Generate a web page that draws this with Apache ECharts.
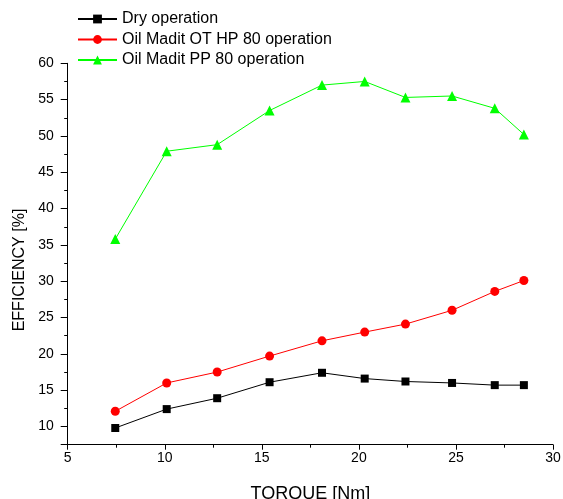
<!DOCTYPE html>
<html>
<head>
<meta charset="utf-8">
<script src="https://cdn.jsdelivr.net/npm/echarts@6/dist/echarts.min.js"></script>
<style>
html,body{margin:0;padding:0;background:#fff;}
#chart{width:563px;height:499px;}
</style>
</head>
<body>
<div id="chart"></div>
<script>
var torque = [7.45, 10.1, 12.7, 15.4, 18.1, 20.3, 22.4, 24.8, 27.0, 28.5];
var dryOperation = [9.8, 12.4, 13.9, 16.1, 17.4, 16.6, 16.2, 16.0, 15.7, 15.7];
var oilOTHP80 = [12.1, 16.0, 17.5, 19.7, 21.8, 23.0, 24.1, 26.0, 28.6, 30.1];
var oilPP80 = [35.8, 47.9, 48.8, 53.5, 57.0, 57.5, 55.3, 55.5, 53.8, 50.2];
var seriesNames = ['Dry operation', 'Oil Madit OT HP 80 operation', 'Oil Madit PP 80 operation'];

function pairs(xs, ys) { return xs.map(function (x, i) { return [x, ys[i]]; }); }

var font = '"Liberation Sans", Arial, sans-serif';
var chart = echarts.init(document.getElementById('chart'), null, {renderer: 'canvas'});
chart.setOption({
  animation: false,
  backgroundColor: '#ffffff',
  textStyle: {fontFamily: font, color: '#000'},
  grid: {left: 67.7, right: 10, top: 63.3, bottom: 54.3, containLabel: false, outerBoundsMode: 'none'},
  legend: {
    left: 77, top: 11, orient: 'vertical', padding: 0,
    itemWidth: 39, itemHeight: 11, itemGap: 4.5,
    textStyle: {fontFamily: font, fontSize: 16, color: '#000'},
    data: seriesNames
  },
  xAxis: {
    type: 'value', min: 5, max: 30, interval: 5,
    name: 'TORQUE [Nm]', nameLocation: 'middle', nameGap: 40,
    nameTextStyle: {fontFamily: font, fontSize: 18, color: '#000'},
    axisLine: {show: true, onZero: false, lineStyle: {color: '#000', width: 1}},
    axisTick: {show: true, inside: false, length: 5, lineStyle: {color: '#000'}},
    minorTick: {show: true, splitNumber: 2, length: 3, lineStyle: {color: '#000'}},
    axisLabel: {fontFamily: font, fontSize: 14, color: '#000', margin: 6},
    splitLine: {show: false}
  },
  yAxis: {
    type: 'value', min: 7.5, max: 60, splitNumber: 10,
    name: 'EFFICIENCY [%]', nameLocation: 'middle', nameGap: 40,
    nameTextStyle: {fontFamily: font, fontSize: 16, color: '#000', padding: [0, 32, 0, 0]},
    axisLine: {show: true, onZero: false, lineStyle: {color: '#000', width: 1}},
    axisTick: {show: true, inside: false, length: 7, lineStyle: {color: '#000'}},
    minorTick: {show: true, splitNumber: 2, length: 3.5, lineStyle: {color: '#000'}},
    axisLabel: {fontFamily: font, fontSize: 14, color: '#000', margin: 14, showMinLabel: false},
    splitLine: {show: false}
  },
  series: [
    {name: seriesNames[0], type: 'line', data: pairs(torque, dryOperation),
     symbol: 'rect', symbolSize: 8, color: '#000000',
     lineStyle: {color: '#000000', width: 1}, itemStyle: {color: '#000000'}},
    {name: seriesNames[1], type: 'line', data: pairs(torque, oilOTHP80),
     symbol: 'circle', symbolSize: 9, color: '#ff0000',
     lineStyle: {color: '#ff0000', width: 1}, itemStyle: {color: '#ff0000'}},
    {name: seriesNames[2], type: 'line', data: pairs(torque, oilPP80),
     symbol: 'triangle', symbolSize: 10, color: '#00ff00',
     lineStyle: {color: '#00ff00', width: 1}, itemStyle: {color: '#00ff00'}}
  ]
});
</script>
</body>
</html>
